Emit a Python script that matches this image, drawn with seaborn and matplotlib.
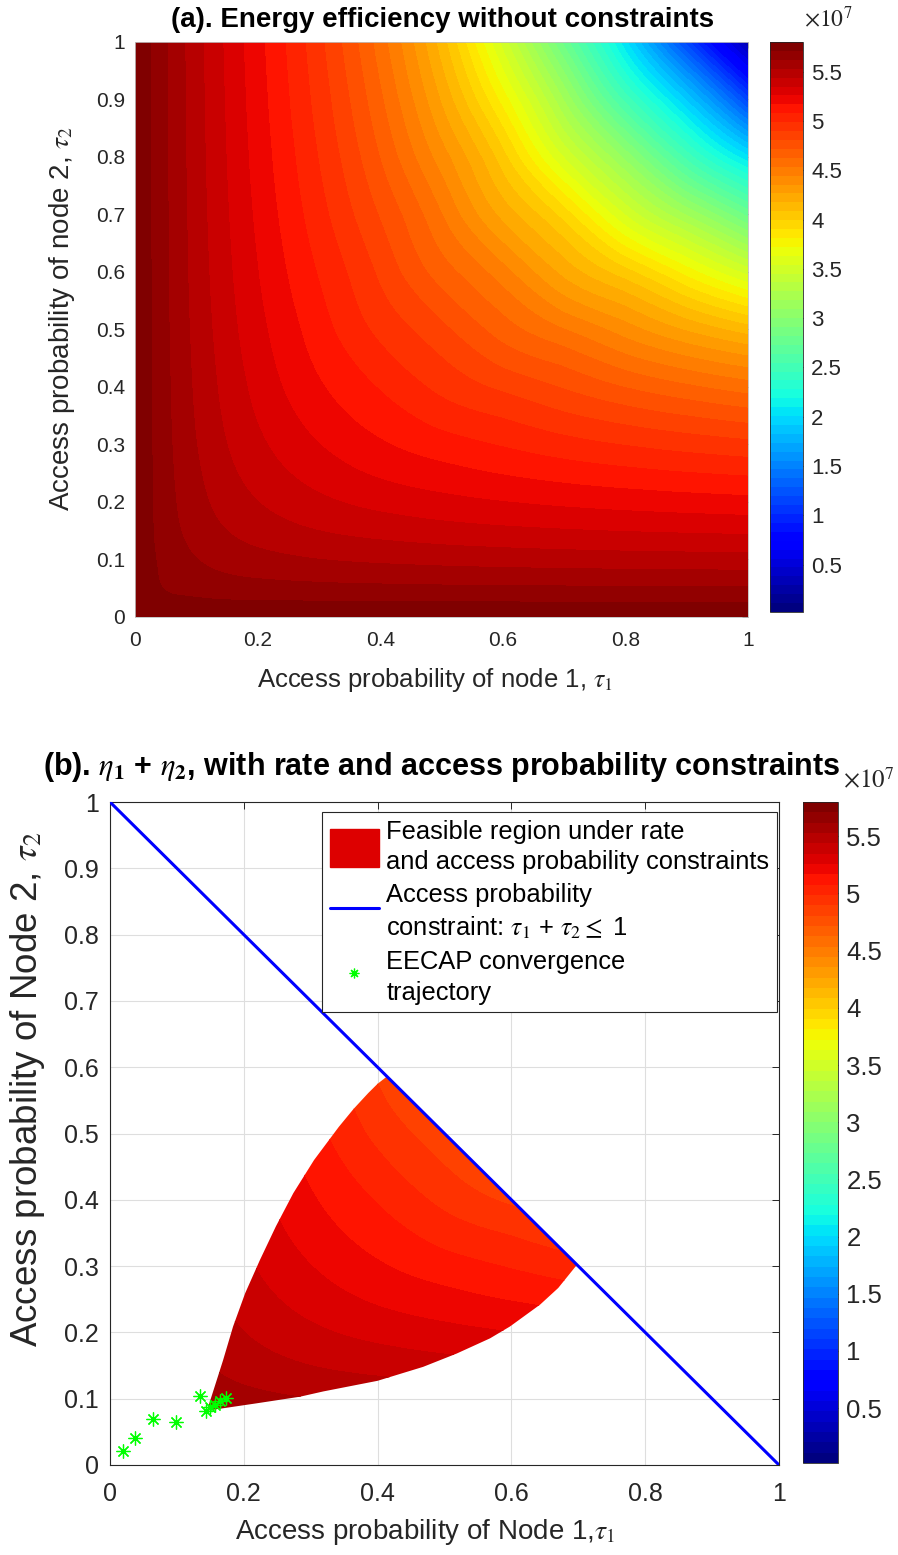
import numpy as np
import matplotlib
matplotlib.use("Agg")
import matplotlib.pyplot as plt
import matplotlib.tri as mtri
import seaborn as sns
from matplotlib import font_manager
from matplotlib.patches import Polygon, Patch
from matplotlib.lines import Line2D
from matplotlib.colors import Normalize
from matplotlib.cm import ScalarMappable
from matplotlib.ticker import FixedLocator, FuncFormatter

# ---------------- data ----------------
tau_grid = [0.0, 0.03, 0.07, 0.12, 0.2, 0.3, 0.4, 0.5, 0.6, 0.7, 0.8, 0.9, 1.0]

# energy efficiency (x 1e7); rows: tau2 on tau_grid, columns: tau1 on tau_grid
ee_t2_000 = [5.800, 5.800, 5.800, 5.800, 5.800, 5.800, 5.800, 5.800, 5.800, 5.800, 5.800, 5.800, 5.800]
ee_t2_003 = [5.800, 5.746, 5.724, 5.714, 5.706, 5.702, 5.700, 5.698, 5.697, 5.696, 5.696, 5.695, 5.695]
ee_t2_007 = [5.800, 5.724, 5.674, 5.641, 5.613, 5.596, 5.586, 5.579, 5.574, 5.571, 5.568, 5.566, 5.564]
ee_t2_012 = [5.800, 5.714, 5.641, 5.584, 5.530, 5.491, 5.468, 5.452, 5.440, 5.431, 5.424, 5.419, 5.414]
ee_t2_020 = [5.800, 5.706, 5.613, 5.530, 5.440, 5.368, 5.320, 5.286, 5.260, 5.239, 5.222, 5.208, 5.197]
ee_t2_030 = [5.800, 5.702, 5.596, 5.491, 5.368, 5.260, 5.179, 5.118, 5.070, 5.022, 4.983, 4.950, 4.922]
ee_t2_040 = [5.800, 5.700, 5.586, 5.468, 5.320, 5.179, 5.070, 4.963, 4.878, 4.798, 4.713, 4.642, 4.580]
ee_t2_050 = [5.800, 5.698, 5.579, 5.452, 5.286, 5.118, 4.963, 4.830, 4.671, 4.538, 4.398, 4.253, 4.127]
ee_t2_060 = [5.800, 5.697, 5.574, 5.440, 5.260, 5.070, 4.878, 4.671, 4.480, 4.235, 4.026, 3.772, 3.505]
ee_t2_070 = [5.800, 5.696, 5.571, 5.431, 5.239, 5.022, 4.798, 4.538, 4.235, 3.950, 3.535, 3.171, 2.787]
ee_t2_080 = [5.800, 5.696, 5.568, 5.424, 5.222, 4.983, 4.713, 4.398, 4.026, 3.535, 3.060, 2.514, 2.029]
ee_t2_090 = [5.800, 5.695, 5.566, 5.419, 5.208, 4.950, 4.642, 4.253, 3.772, 3.171, 2.514, 1.900, 1.142]
ee_t2_100 = [5.800, 5.695, 5.564, 5.414, 5.197, 4.922, 4.580, 4.127, 3.505, 2.787, 2.029, 1.142, 0.300]

# feasible region boundaries (panel b)
left_edge_t1 = [0.145, 0.169, 0.184, 0.202, 0.224, 0.248, 0.274, 0.305, 0.342, 0.364, 0.386, 0.400, 0.414]
left_edge_t2 = [0.082, 0.158, 0.209, 0.259, 0.309, 0.360, 0.410, 0.460, 0.510, 0.537, 0.561, 0.575, 0.586]
lower_edge_t1 = [0.145, 0.219, 0.284, 0.319, 0.400, 0.468, 0.518, 0.568, 0.598, 0.643, 0.670, 0.698]
lower_edge_t2 = [0.082, 0.093, 0.103, 0.111, 0.127, 0.148, 0.168, 0.191, 0.209, 0.242, 0.267, 0.302]

# access probability constraint tau1 + tau2 = 1
constraint_t1 = [0.0, 1.0]
constraint_t2 = [1.0, 0.0]

# EECAP convergence trajectory
traj_t1 = [0.019, 0.037, 0.064, 0.099, 0.135, 0.143, 0.150, 0.157, 0.165, 0.174]
traj_t2 = [0.021, 0.041, 0.069, 0.065, 0.104, 0.081, 0.087, 0.091, 0.096, 0.101]

ticks_a = [0, 0.2, 0.4, 0.6, 0.8, 1]
yticks_a = [0, 0.1, 0.2, 0.3, 0.4, 0.5, 0.6, 0.7, 0.8, 0.9, 1]
ticks_b_x = [0, 0.2, 0.4, 0.6, 0.8, 1]
ticks_b_y = [0, 0.1, 0.2, 0.3, 0.4, 0.5, 0.6, 0.7, 0.8, 0.9, 1]
cbar_ticks = [0.5, 1, 1.5, 2, 2.5, 3, 3.5, 4, 4.5, 5, 5.5]
cbar_min, cbar_max = 0.02, 5.80
n_colors = 64

# ---------------- style ----------------
sns.set_style("white")
names = {f.name for f in font_manager.fontManager.ttflist}
REG = 'Liberation Sans' if 'Liberation Sans' in names else 'DejaVu Sans'
plt.rcParams['font.family'] = [REG, 'DejaVu Sans']
plt.rcParams['mathtext.fontset'] = 'stix'
DARK = (0.15, 0.15, 0.15)
gfmt = FuncFormatter(lambda v, p: f"{v:g}")

W, H = 898, 1555
fig = plt.figure(figsize=(W / 100, H / 100), dpi=100)


def rect(l, t, r, b):
    return [l / W, 1 - b / H, (r - l) / W, (b - t) / H]


axA = fig.add_axes(rect(135, 42, 748, 617))
caxA = fig.add_axes(rect(770, 42, 803, 612))
axB = fig.add_axes(rect(110, 802, 779, 1465))
caxB = fig.add_axes(rect(803, 802, 838, 1463))

cmap = plt.get_cmap('jet', n_colors)
levels = np.linspace(cbar_min, cbar_max, n_colors + 1)

T1, T2 = np.meshgrid(tau_grid, tau_grid)
Z = np.array([ee_t2_000, ee_t2_003, ee_t2_007, ee_t2_012, ee_t2_020, ee_t2_030,
              ee_t2_040, ee_t2_050, ee_t2_060, ee_t2_070, ee_t2_080, ee_t2_090,
              ee_t2_100])

# grid cells split along the anti-diagonal, then smoothed by matplotlib's own
# cubic triangular interpolation for contouring
n = len(tau_grid)
cells = []
for j in range(n - 1):
    for i in range(n - 1):
        a = j * n + i
        cells.append([a, a + 1, a + n])
        cells.append([a + 1, a + n + 1, a + n])
tri = mtri.Triangulation(T1.ravel(), T2.ravel(), triangles=cells)
interp = mtri.CubicTriInterpolator(tri, Z.ravel(), kind='min_E')
tri_f, z_f = mtri.UniformTriRefiner(tri).refine_field(Z.ravel(), triinterpolator=interp,
                                                      subdiv=4)

# ---------------- panel (a) ----------------
axA.tricontourf(tri_f, z_f, levels=levels, cmap=cmap,
                norm=Normalize(cbar_min, cbar_max), extend='both')
axA.set_xlim(0, 1)
axA.set_ylim(0, 1)
axA.xaxis.set_major_locator(FixedLocator(ticks_a))
axA.yaxis.set_major_locator(FixedLocator(yticks_a))
axA.xaxis.set_major_formatter(gfmt)
axA.yaxis.set_major_formatter(gfmt)
axA.tick_params(direction='in', length=4, width=0.6, colors=DARK, labelcolor=DARK,
                labelsize=15, top=True, right=True)
axA.tick_params(axis='x', pad=10)
axA.tick_params(axis='y', pad=7)
for s in axA.spines.values():
    s.set_color((0.75, 0.75, 0.75))
    s.set_linewidth(0.6)
fig.text(443 / W, 1 - 20 / H, "(a). Energy efficiency without constraints",
         ha='center', va='center', fontsize=20, fontweight='bold', color='black')
fig.text(435 / W, 1 - 680 / H, r"Access probability of node 1, $\tau_1$",
         ha='center', va='center', fontsize=18.5, color=DARK)
fig.text(62 / W, 1 - 318 / H, r"Access probability of node 2, $\tau_2$",
         ha='center', va='center', rotation=90, fontsize=20, color=DARK)

# ---------------- panel (b) ----------------
region = np.column_stack([
    lower_edge_t1 + left_edge_t1[::-1],
    lower_edge_t2 + left_edge_t2[::-1],
])
poly = Polygon(region, closed=True, facecolor='none', edgecolor='none',
               transform=axB.transData)
axB.add_patch(poly)
csB = axB.tricontourf(tri_f, z_f, levels=levels, cmap=cmap,
                      norm=Normalize(cbar_min, cbar_max), extend='both')
csB.set_clip_path(poly)

sns.lineplot(x=constraint_t1, y=constraint_t2, ax=axB, color=(0, 0, 1), linewidth=2.2,
             zorder=5, legend=False)
axB.plot(traj_t1, traj_t2, ls='none', marker=(8, 2, 0), color=(0, 1, 0),
         markersize=10, markeredgewidth=0.9, zorder=6)

axB.set_xlim(0, 1)
axB.set_ylim(0, 1)
axB.xaxis.set_major_locator(FixedLocator(ticks_b_x))
axB.yaxis.set_major_locator(FixedLocator(ticks_b_y))
axB.xaxis.set_major_formatter(gfmt)
axB.yaxis.set_major_formatter(gfmt)
axB.tick_params(direction='in', length=5, width=0.7, colors=DARK, labelcolor=DARK,
                labelsize=18, top=True, right=True)
axB.tick_params(axis='y', pad=8)
axB.tick_params(axis='x', pad=12)
axB.grid(True, color=(0.87, 0.87, 0.87), linewidth=0.8)
axB.set_axisbelow(True)
for s in axB.spines.values():
    s.set_color(DARK)
    s.set_linewidth(0.8)

fig.text(442 / W, 1 - 767 / H,
         r"(b). $\eta_{\mathbf{1}}$ + $\eta_{\mathbf{2}}$, with rate and access probability constraints",
         ha='center', va='center', fontsize=22, fontweight='bold', color='black')
fig.text(425 / W, 1 - 1532 / H, r"Access probability of Node 1,$\tau_1$",
         ha='center', va='center', fontsize=20, color=DARK)
fig.text(28 / W, 1 - 1089 / H, r"Access probability of Node 2, $\tau_2$",
         ha='center', va='center', rotation=90, fontsize=26.5, color=DARK)

handles = [
    Patch(facecolor='#DD0000', edgecolor='#DD0000'),
    Line2D([], [], color=(0, 0, 1), linewidth=2.2),
    Line2D([], [], ls='none', marker=(8, 2, 0), color=(0, 1, 0), markersize=7,
           markeredgewidth=0.9),
]
labels = [
    "Feasible region under rate\nand access probability constraints",
    "Access probability\n" + r"constraint: $\tau_1$ + $\tau_2 \leq$ 1",
    "EECAP convergence\ntrajectory",
]
leg = axB.legend(handles, labels, loc='upper right',
                 bbox_to_anchor=(0.997, 0.985), borderaxespad=0.0,
                 fontsize=18.4, handlelength=1.9, handleheight=1.9,
                 handletextpad=0.3, borderpad=0.3, labelspacing=0.35,
                 fancybox=False, framealpha=1.0, edgecolor=DARK)
leg.get_frame().set_linewidth(0.8)
for t in leg.get_texts():
    t.set_color('black')
    t.set_linespacing(1.35)

# ---------------- colorbars (made last, each with its own norm) ----------------
for cax, lsize in ((caxA, 16), (caxB, 18.5)):
    cb = fig.colorbar(ScalarMappable(norm=Normalize(cbar_min, cbar_max), cmap=cmap),
                      cax=cax)
    cb.set_ticks(cbar_ticks)
    cb.ax.yaxis.set_major_formatter(gfmt)
    cax.tick_params(direction='in', length=4, width=0.6, labelsize=lsize, colors=DARK,
                    labelcolor=DARK, pad=6)
    cb.outline.set_edgecolor(DARK)
    cb.outline.set_linewidth(0.6)

fig.text(804 / W, 1 - 19 / H, r"$\times10^{7}$", ha='left', va='center',
         fontsize=17, color=DARK)
fig.text(843 / W, 1 - 781 / H, r"$\times10^{7}$", ha='left', va='center',
         fontsize=18, color=DARK)

fig.savefig("out.png", dpi=100)
